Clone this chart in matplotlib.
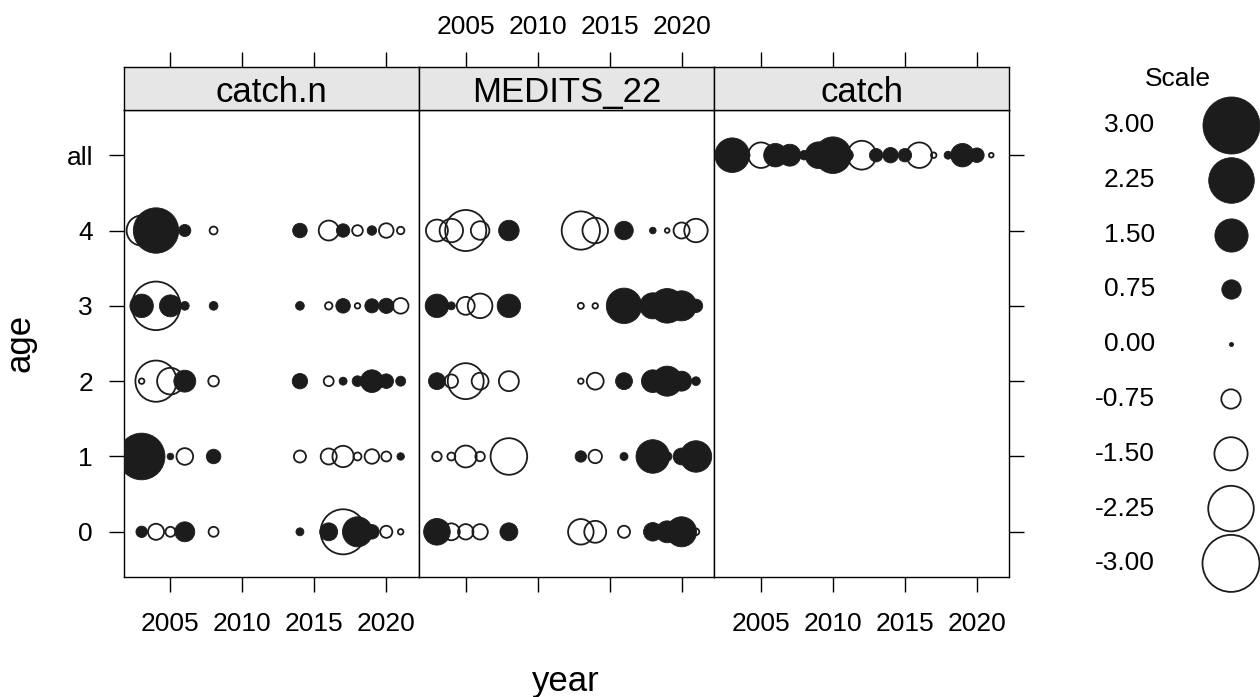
import numpy as np
import matplotlib
matplotlib.use("Agg")
import matplotlib.pyplot as plt

plt.rcParams['font.family'] = ['Liberation Sans', 'DejaVu Sans']

nan = np.nan

years = [2003, 2004, 2005, 2006, 2007, 2008, 2009, 2010, 2011, 2012,
         2013, 2014, 2015, 2016, 2017, 2018, 2019, 2020, 2021]
age_labels = ["0", "1", "2", "3", "4", "all"]
panel_names = ["catch.n", "MEDITS_22", "catch"]
year_ticks = [2005, 2010, 2015, 2020]
scale_values = [3.00, 2.25, 1.50, 0.75, 0.00, -0.75, -1.50, -2.25, -3.00]

# residuals, one row per age (0..4), one column per year
catchn_resid = [
    [0.38, -0.59, -0.32, 0.78, nan, -0.32, nan, nan, nan, nan, nan, 0.24, nan, 0.68, -2.22, 1.32, 0.52, -0.41, -0.15],
    [2.32, 0.50, 0.19, -0.62, nan, 0.52, nan, nan, nan, nan, nan, -0.41, nan, -0.59, -0.85, -0.24, -0.52, -0.32, 0.22],
    [-0.15, -1.98, -1.13, 0.88, nan, -0.35, nan, nan, nan, nan, nan, 0.56, nan, -0.32, 0.24, 0.35, 0.92, 0.52, 0.32],
    [0.96, -2.44, 0.88, 0.27, nan, 0.27, nan, nan, nan, nan, nan, 0.27, nan, -0.22, 0.52, -0.15, 0.50, 0.55, -0.57],
    [-1.32, 2.24, 0.40, 0.41, nan, -0.24, nan, nan, nan, nan, nan, 0.52, nan, -0.78, 0.47, -0.35, 0.30, -0.52, -0.22],
]
medits_resid = [
    [1.13, -0.63, -0.56, -0.56, nan, 0.68, nan, nan, nan, nan, -1.07, -0.88, nan, -0.41, nan, 0.71, 0.88, 1.32, -0.19],
    [-0.30, -0.24, -0.88, -0.30, nan, -1.70, nan, nan, nan, nan, 0.38, -0.47, nan, 0.24, nan, 1.52, 0.30, 0.63, 1.40],
    [0.63, -0.47, -1.66, -0.63, nan, -0.78, nan, nan, nan, nan, -0.15, -0.63, nan, 0.63, nan, 0.92, 1.32, 0.78, 0.27],
    [0.96, 0.24, -0.68, -1.02, nan, 0.96, nan, nan, nan, nan, -0.17, -0.15, nan, 1.63, nan, 1.10, 1.58, 1.32, 0.47],
    [-0.88, -0.96, -1.97, -0.71, nan, 0.81, nan, nan, nan, nan, -1.80, -1.07, nan, 0.71, nan, 0.19, -0.12, -0.59, -0.96],
]
# total catch residuals, age "all"
catch_resid = [1.58, 0.20, -1.07, 0.96, 0.88, 0.30, 1.13, 1.70, 0.40, -1.25,
               0.47, 0.56, 0.47, -1.07, -0.15, 0.24, 0.96, 0.52, -0.12]

FILL = '#1c1c1c'
DPI = 100


def marker_area(v):
    r_px = np.maximum(12.1 * np.abs(v) ** 0.78, 2.0)
    return (2 * r_px * 72 / DPI) ** 2


def draw_row(ax, vals, row):
    vals = np.asarray(vals, dtype=float)
    ok = ~np.isnan(vals)
    yrs = np.asarray(years)[ok]
    v = vals[ok]
    pos = v >= 0
    ax.scatter(yrs[pos], np.full(pos.sum(), row), s=marker_area(v[pos]),
               c=FILL, edgecolors=FILL, linewidths=0.6, zorder=3)
    ax.scatter(yrs[~pos], np.full((~pos).sum(), row), s=marker_area(v[~pos]),
               facecolors='none', edgecolors=FILL, linewidths=1.3, zorder=3)


W, H = 1260, 697
fig = plt.figure(figsize=(W / DPI, H / DPI), dpi=DPI)

panel_left = 123.5
panel_w = 295.3
panel_top = 110
panel_bot = 577
strip_top = 67

data_rows = [
    [(catchn_resid[a], a) for a in range(5)],
    [(medits_resid[a], a) for a in range(5)],
    [(catch_resid, 5)],
]

for i, name in enumerate(panel_names):
    l = (panel_left + i * panel_w) / W
    ax = fig.add_axes([l, 1 - panel_bot / H, panel_w / W, (panel_bot - panel_top) / H])
    st = fig.add_axes([l, 1 - panel_top / H, panel_w / W, (panel_top - strip_top) / H], sharex=ax)

    for vals, row in data_rows[i]:
        draw_row(ax, vals, row)

    ax.set_xlim(2001.74, 2022.26)
    ax.set_ylim(-0.6, 5.6)
    ax.set_xticks(year_ticks)
    ax.set_yticks(range(len(age_labels)))
    ax.set_yticklabels(age_labels)
    ax.tick_params(axis='x', direction='out', length=11, width=1, pad=14,
                   labelsize=19, labelbottom=(i != 1))
    ax.tick_params(axis='y', direction='out', length=11, width=1, pad=11,
                   labelsize=19, left=(i == 0), labelleft=(i == 0),
                   right=(i == 2), labelright=False)
    for sp in ax.spines.values():
        sp.set_linewidth(1.0)

    st.set_facecolor('#e6e6e6')
    st.set_yticks([])
    st.tick_params(axis='x', direction='out', length=11, width=1, pad=9,
                   labelsize=19, bottom=False, labelbottom=False,
                   top=True, labeltop=(i == 1))
    for sp in st.spines.values():
        sp.set_linewidth(1.0)
    st.text(0.5, 0.40, name, transform=st.transAxes, ha='center', va='center', fontsize=25)

fig.text(566 / W, 1 - 682 / H, 'year', ha='center', va='center', fontsize=25)
fig.text(20 / W, 1 - 343 / H, 'age', ha='center', va='center', fontsize=25, rotation=90)

# bubble size key
key = fig.add_axes([0, 0, 1, 1], zorder=-1)
key.set_xlim(0, W)
key.set_ylim(H, 0)
key.axis('off')
key.text(1178, 79, 'Scale', ha='center', va='center', fontsize=19)
for k, v in enumerate(scale_values):
    y = 125 + k * 54.8
    key.text(1155, y, f'{v:.2f}', ha='right', va='center', fontsize=19)
    if v >= 0:
        key.scatter([1231], [y], s=marker_area(v), c=FILL, edgecolors=FILL, linewidths=0.6, clip_on=False)
    else:
        key.scatter([1231], [y], s=marker_area(v), facecolors='none', edgecolors=FILL, linewidths=1.3, clip_on=False)

fig.savefig('out.png', dpi=DPI)
